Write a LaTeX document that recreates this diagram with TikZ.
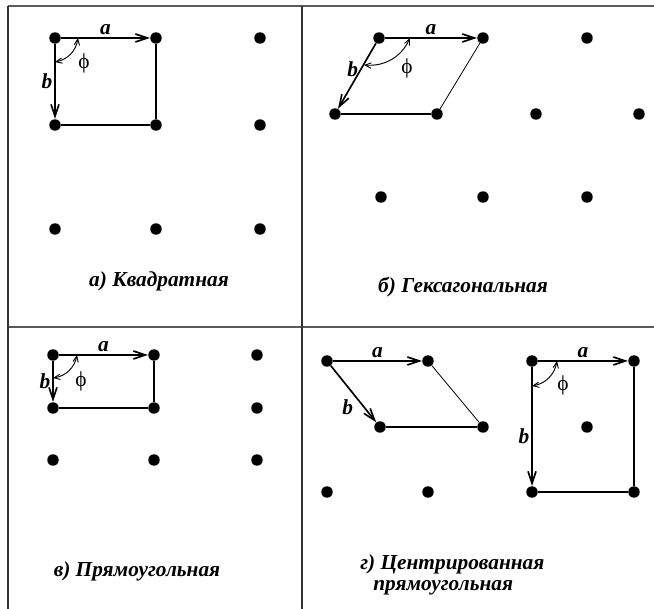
\documentclass[tikz,border=0pt]{standalone}
\usepackage{fontspec}
\setmainfont{Liberation Serif}
\usetikzlibrary{arrows.meta}

\tikzset{
  dot/.style={circle,fill,inner sep=0pt,minimum size=8.6pt},
  vec/.style={line width=1.25pt,-{Straight Barb[length=9pt,width=6pt]}},
  cellline/.style={line width=0.9pt},
  thinline/.style={line width=0.6pt},
  angarc/.style={line width=0.7pt,{Straight Barb[length=4.5pt,width=4pt]}-{Straight Barb[length=4.5pt,width=4pt]}},
  vlabel/.style={font=\fontsize{16}{16}\selectfont\bfseries\itshape,inner sep=1.5pt},
  philabel/.style={font=\fontsize{16}{16}\selectfont},
  caption/.style={font=\fontsize{16}{13}\selectfont\bfseries\itshape,align=left,inner sep=0pt},
  frameline/.style={line width=1.3pt,black!65}
}

\begin{document}
\begin{tikzpicture}[x=0.75pt,y=-0.75pt]
\useasboundingbox (0,0) rectangle (654,609);
% frame
\draw[frameline](8,6)--(654,6);
\draw[frameline](8,327)--(654,327);
\draw[line width=1pt,black!80](8,6)--(8,609);
\draw[line width=1pt,black!80](302,6)--(302,609);

%% a) square lattice
\foreach \i/\x in {1/55,2/156,3/260}
  \foreach \j/\y in {1/38,2/125,3/229}
    \node[dot](sq\j\i) at (\x,\y){};
\draw[vec](sq11)--(sq12)node[midway,above,vlabel]{a};
\draw[vec](sq11)--(sq21)node[midway,left,vlabel]{b};
\draw[cellline](sq12)--(sq22)--(sq21);
\coordinate(sqA) at (78,38);
\coordinate(sqB) at (55,62);
\draw[angarc](sqA)to[bend left=35](sqB);
\node[philabel] at (84,63){ϕ};
\node[caption] at (159,281){а) Квадратная};

%% b) hexagonal lattice
\foreach \i/\x in {1/379,2/483,3/587}
  \node[dot](hx1\i) at (\x,38){};
\foreach \i/\x in {1/335,2/437,3/536,4/639}
  \node[dot](hx2\i) at (\x,114){};
\foreach \i/\x in {1/381,2/483,3/587}
  \node[dot](hx3\i) at (\x,197){};
\draw[vec](hx11)--(hx12)node[midway,above,vlabel]{a};
\draw[vec](hx11)--(hx21)node[pos=0.4,left,vlabel]{b};
\draw[thinline](hx12)--(hx22);
\draw[cellline](hx22)--(hx21);
\coordinate(hxA) at (410,38);
\coordinate(hxB) at (364,65);
\draw[angarc](hxA)to[bend left=35](hxB);
\node[philabel] at (407,68){ϕ};
\node[caption] at (463,287){б) Гексагональная};

%% c) rectangular lattice
\foreach \i/\x in {1/53,2/154,3/257}
  \foreach \j/\y in {1/355,2/408,3/460}
    \node[dot](rc\j\i) at (\x,\y){};
\draw[vec](rc11)--(rc12)node[midway,above,vlabel]{a};
\draw[vec](rc11)--(rc21)node[midway,left,vlabel]{b};
\draw[cellline](rc12)--(rc22)--(rc21);
\coordinate(rcA) at (77,355);
\coordinate(rcB) at (53,378);
\draw[angarc](rcA)to[bend left=35](rcB);
\node[philabel] at (81,381){ϕ};
\node[caption] at (137,571){в) Прямоугольная};

%% d) centred rectangular lattice
\node[dot](cl1) at (327,361){};
\node[dot](cl2) at (428,361){};
\node[dot](cl3) at (380,427){};
\node[dot](cl4) at (483,427){};
\node[dot](cl5) at (327,492){};
\node[dot](cl6) at (428,492){};
\draw[vec](cl1)--(cl2)node[midway,above,vlabel]{a};
\draw[vec](cl1)--(cl3)node[pos=0.55,below left,vlabel]{b};
\draw[thinline](cl2)--(cl4);
\draw[cellline](cl4)--(cl3);
\node[dot](cr1) at (532,361){};
\node[dot](cr2) at (634,361){};
\node[dot](cr3) at (587,427){};
\node[dot](cr4) at (532,492){};
\node[dot](cr5) at (634,492){};
\draw[vec](cr1)--(cr2)node[midway,above,vlabel]{a};
\draw[vec](cr1)--(cr4)node[pos=0.58,left,vlabel]{b};
\draw[cellline](cr2)--(cr5)--(cr4);
\coordinate(crA) at (557,361);
\coordinate(crB) at (532,386);
\draw[angarc](crA)to[bend left=35](crB);
\node[philabel] at (563,385){ϕ};
\node[caption,anchor=north west] at (360,554){г) Центрированная\\[3pt]\hspace*{9.75pt}прямоугольная};
\end{tikzpicture}
\end{document}
